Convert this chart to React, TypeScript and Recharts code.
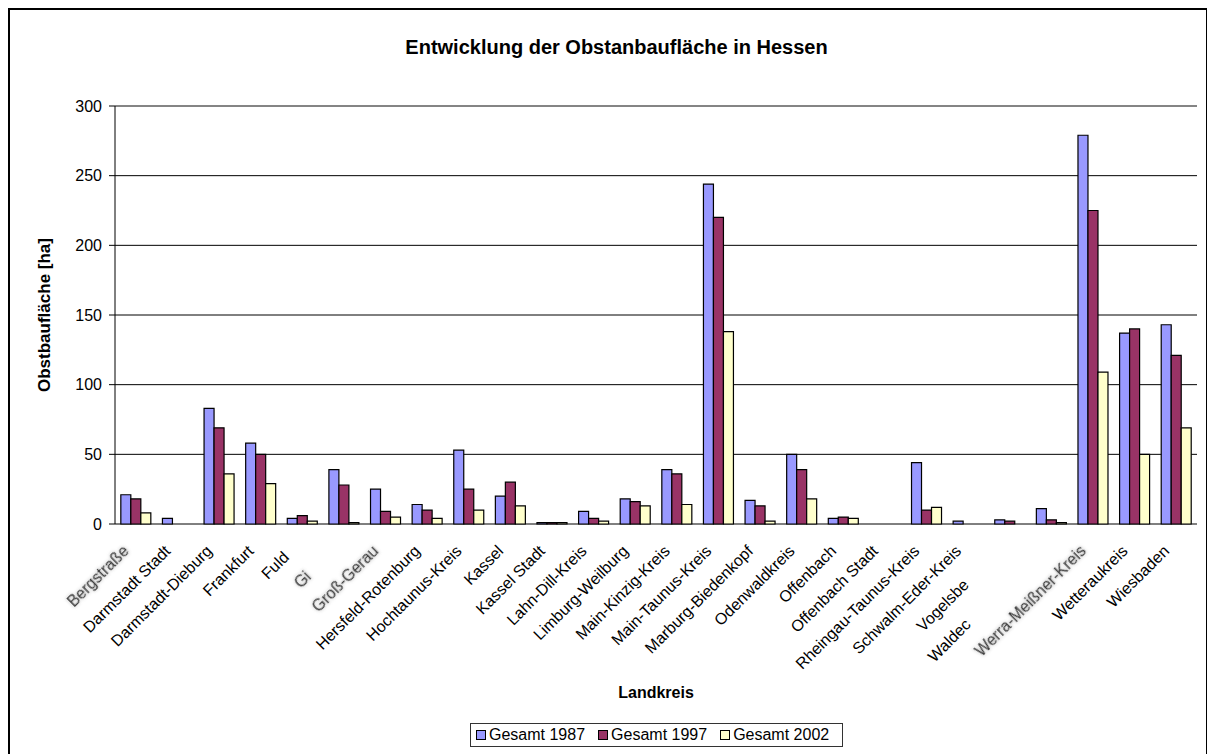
import React from 'react';
import { BarChart, Bar, XAxis, YAxis, CartesianGrid, Legend, ReferenceLine } from 'recharts';

const districts = [
  'Bergstraße', 'Darmstadt Stadt', 'Darmstadt-Dieburg', 'Frankfurt', 'Fulda', 'Gießen',
  'Groß-Gerau', 'Hersfeld-Rotenburg', 'Hochtaunus-Kreis', 'Kassel', 'Kassel Stadt',
  'Lahn-Dill-Kreis', 'Limburg-Weilburg', 'Main-Kinzig-Kreis', 'Main-Taunus-Kreis',
  'Marburg-Biedenkopf', 'Odenwaldkreis', 'Offenbach', 'Offenbach Stadt',
  'Rheingau-Taunus-Kreis', 'Schwalm-Eder-Kreis', 'Vogelsbergkreis', 'Waldeck-Frankenberg',
  'Werra-Meißner-Kreis', 'Wetteraukreis', 'Wiesbaden',
];

// text that is actually visible in the reference tick labels
const visibleLabels = [
  'Bergstraße', 'Darmstadt Stadt', 'Darmstadt-Dieburg', 'Frankfurt', 'Fuld', 'Gi',
  'Groß-Gerau', 'Hersfeld-Rotenburg', 'Hochtaunus-Kreis', 'Kassel', 'Kassel Stadt',
  'Lahn-Dill-Kreis', 'Limburg-Weilburg', 'Main-Kinzig-Kreis', 'Main-Taunus-Kreis',
  'Marburg-Biedenkopf', 'Odenwaldkreis', 'Offenbach', 'Offenbach Stadt',
  'Rheingau-Taunus-Kreis', 'Schwalm-Eder-Kreis', 'Vogelsbe', 'Waldec',
  'Werra-Meißner-Kreis', 'Wetteraukreis', 'Wiesbaden',
];

const fadedLabels = ['Bergstraße', 'Gießen', 'Groß-Gerau', 'Werra-Meißner-Kreis'];

const gesamt1987 = [21, 4, 83, 58, 4, 39, 25, 14, 53, 20, 1, 9, 18, 39, 244, 17, 50, 4, 0, 44, 2, 3, 11, 279, 137, 143];
const gesamt1997 = [18, 0, 69, 50, 6, 28, 9, 10, 25, 30, 1, 4, 16, 36, 220, 13, 39, 5, 0, 10, 0, 2, 3, 225, 140, 121];
const gesamt2002 = [8, 0, 36, 29, 2, 1, 5, 4, 10, 13, 1, 2, 13, 14, 138, 2, 18, 4, 0, 12, 0, 0, 1, 109, 50, 69];

const yTicks = [0, 50, 100, 150, 200, 250, 300];

const seriesNames = ['Gesamt 1987', 'Gesamt 1997', 'Gesamt 2002'];
const seriesKeys = ['g1987', 'g1997', 'g2002'];
const seriesColors = ['#9999FF', '#993366', '#FFFFCC'];

const data = districts.map((name, i) => ({
  name,
  g1987: gesamt1987[i],
  g1997: gesamt1997[i],
  g2002: gesamt2002[i],
}));

const edgeTicks = Array.from({ length: districts.length + 1 }, (_, i) => i);

const FONT = '"Liberation Sans", Arial, Helvetica, sans-serif';

const CategoryTick = (props: any) => {
  const { x, y, payload, index } = props;
  const full = String(payload.value);
  const i = districts.indexOf(full);
  const shown = i >= 0 ? visibleLabels[i] : full;
  const hidden = full.slice(shown.length);
  const faded = fadedLabels.includes(full);
  const ax = x - 6;
  const ay = y + 28;
  const fid = `soft-${index}`;
  const hid = `halo-${index}`;
  const content = (
    <>
      {shown}
      {hidden ? (
        <tspan visibility="hidden" fillOpacity={0} strokeOpacity={0}>
          {hidden}
        </tspan>
      ) : null}
    </>
  );
  return (
    <g>
      {faded && (
        <defs>
          <filter id={fid} x="-20%" y="-20%" width="140%" height="140%">
            <feGaussianBlur stdDeviation="0.45" />
          </filter>
          <filter id={hid} x="-20%" y="-40%" width="140%" height="180%">
            <feGaussianBlur stdDeviation="1.6" />
          </filter>
        </defs>
      )}
      {faded && (
        <text
          x={ax}
          y={ay}
          transform={`rotate(-45, ${ax}, ${ay})`}
          textAnchor="end"
          fontSize={16}
          fontFamily={FONT}
          fill="#9a9a9a"
          stroke="#bbbbbb"
          strokeWidth={2}
          opacity={0.45}
          filter={`url(#${hid})`}
        >
          {content}
        </text>
      )}
      <text
        x={ax}
        y={ay}
        transform={`rotate(-45, ${ax}, ${ay})`}
        textAnchor="end"
        fontSize={16}
        fontFamily={FONT}
        fill={faded ? '#3a3a3a' : '#000'}
        filter={faded ? `url(#${fid})` : undefined}
      >
        {content}
      </text>
    </g>
  );
};

const YLabel = (props: any) => {
  const vb = props.viewBox || { x: 0, y: 96, width: 105, height: 418 };
  const cx = vb.x + 34;
  const cy = vb.y + vb.height / 2;
  return (
    <text
      x={cx}
      y={cy}
      transform={`rotate(-90, ${cx}, ${cy})`}
      textAnchor="middle"
      dominantBaseline="central"
      fontSize={17}
      fontWeight="bold"
      fontFamily={FONT}
      fill="#000"
    >
      Obstbaufläche [ha]
    </text>
  );
};

const XLabel = (props: any) => {
  const vb = props.viewBox || { x: 105, y: 514, width: 1082, height: 199 };
  const cx = vb.x + vb.width / 2;
  const cy = vb.y + 174;
  return (
    <text x={cx} y={cy} textAnchor="middle" fontSize={16} fontWeight="bold" fontFamily={FONT} fill="#000">
      Landkreis
    </text>
  );
};

const LegendBox = () => (
  <div
    style={{
      display: 'flex',
      alignItems: 'center',
      height: 24,
      width: 373,
      boxSizing: 'border-box',
      border: '1px solid #333',
      paddingLeft: 5,
      background: '#fff',
      fontSize: 16,
      fontFamily: FONT,
      color: '#000',
      whiteSpace: 'nowrap',
    }}
  >
    {seriesNames.map((n, i) => (
      <div key={n} style={{ display: 'flex', alignItems: 'center', marginRight: 13 }}>
        <span
          style={{
            display: 'inline-block',
            width: 10,
            height: 10,
            boxSizing: 'border-box',
            border: '1px solid #000',
            background: seriesColors[i],
            marginRight: 3,
          }}
        />
        <span>{n}</span>
      </div>
    ))}
  </div>
);

export default function App() {
  return (
    <div
      style={{
        position: 'relative',
        width: 1200,
        height: 752,
        boxSizing: 'border-box',
        border: '2px solid #000',
        background: '#fff',
        fontFamily: FONT,
      }}
    >
      <div
        style={{
          position: 'absolute',
          top: 27,
          left: 17,
          right: 0,
          textAlign: 'center',
          fontSize: 20,
          lineHeight: '20px',
          fontWeight: 'bold',
          color: '#000',
        }}
      >
        Entwicklung der Obstanbaufläche in Hessen
      </div>
      <BarChart
        width={1196}
        height={748}
        data={data}
        margin={{ top: 96, right: 9, left: 0, bottom: 11 }}
        barCategoryGap="14%"
        barGap={0}
        style={{ fontFamily: FONT }}
      >
        <CartesianGrid vertical={false} stroke="#000" strokeWidth={1} />
        <XAxis
          xAxisId="edges"
          type="number"
          domain={[0, districts.length]}
          ticks={edgeTicks}
          tick={false}
          tickLine={{ stroke: '#000', strokeWidth: 1.2 }}
          tickSize={6}
          axisLine={{ stroke: '#000' }}
          height={0}
          allowDataOverflow
        />
        <XAxis
          dataKey="name"
          interval={0}
          tick={<CategoryTick />}
          tickLine={false}
          axisLine={false}
          tickSize={0}
          tickMargin={0}
          height={199}
          label={(p: any) => <XLabel {...p} />}
        />
        <YAxis
          domain={[0, 300]}
          ticks={yTicks}
          width={105}
          tick={{ fill: '#000', fontSize: 16, fontFamily: FONT }}
          tickLine={{ stroke: '#000' }}
          tickSize={6}
          tickMargin={7}
          axisLine={{ stroke: '#000' }}
          label={(p: any) => <YLabel {...p} />}
        />
        <ReferenceLine y={300} stroke="#8a8a8a" />
        <ReferenceLine x={districts.length} xAxisId="edges" stroke="#8a8a8a" />
        <Legend
          verticalAlign="bottom"
          content={<LegendBox />}
          wrapperStyle={{ left: 460, width: 373 }}
        />
        {seriesKeys.map((k, i) => (
          <Bar
            key={k}
            dataKey={k}
            name={seriesNames[i]}
            fill={seriesColors[i]}
            stroke="#000"
            strokeWidth={1.2}
            isAnimationActive={false}
          />
        ))}
      </BarChart>
    </div>
  );
}
